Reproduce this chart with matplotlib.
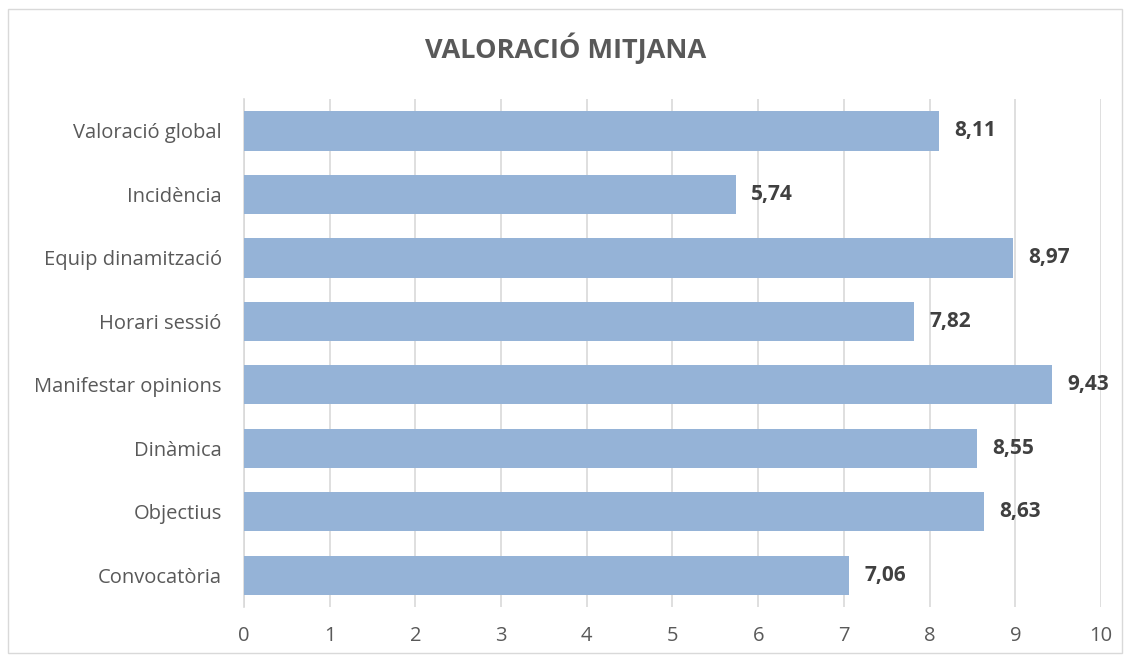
import matplotlib.pyplot as plt
from matplotlib.patches import Rectangle

# data (bottom to top)
categories = ['Convocatòria', 'Objectius', 'Dinàmica', 'Manifestar opinions',
              'Horari sessió', 'Equip dinamització', 'Incidència', 'Valoració global']
values = [7.06, 8.63, 8.55, 9.43, 7.82, 8.97, 5.74, 8.11]
x_ticks = list(range(0, 11))

plt.rcParams['font.family'] = ['Open Sans', 'DejaVu Sans']

fig = plt.figure(figsize=(11.31, 6.61), dpi=100)
ax = fig.add_axes([0.2157, 0.0817, 0.7578, 0.7683])

# light gray chart border
fig.patches.append(Rectangle((8 / 1131, 8 / 661), 1114 / 1131, 644 / 661,
                             transform=fig.transFigure, fill=False,
                             edgecolor='#D9D9D9', linewidth=1))

ypos = range(len(categories))
ax.barh(ypos, values, height=0.62, color='#95B3D7', zorder=3)

for y, v in zip(ypos, values):
    ax.text(v + 0.18, y, ('%.2f' % v).replace('.', ','), va='center', ha='left',
            fontsize=15, fontweight='bold', color='#404040', zorder=4)

ax.set_xlim(0, 10)
ax.set_ylim(-0.5, len(categories) - 0.5)
ax.set_xticks(x_ticks)
ax.set_yticks(list(ypos))
ax.set_yticklabels(categories)
ax.tick_params(axis='both', length=0, labelsize=14.5, labelcolor='#595959')
ax.tick_params(axis='x', pad=14)
ax.tick_params(axis='y', pad=16)
ax.grid(axis='x', color='#D9D9D9', linewidth=1.2, zorder=0)
for s in ['top', 'right', 'bottom']:
    ax.spines[s].set_visible(False)
ax.spines['left'].set_color('#D9D9D9')
ax.spines['left'].set_linewidth(1.2)

fig.text(0.5, 1 - 48 / 661, 'VALORACIÓ MITJANA', ha='center', va='center',
         fontsize=19.5, fontweight='bold', color='#595959')

fig.savefig('out.png', dpi=100)
